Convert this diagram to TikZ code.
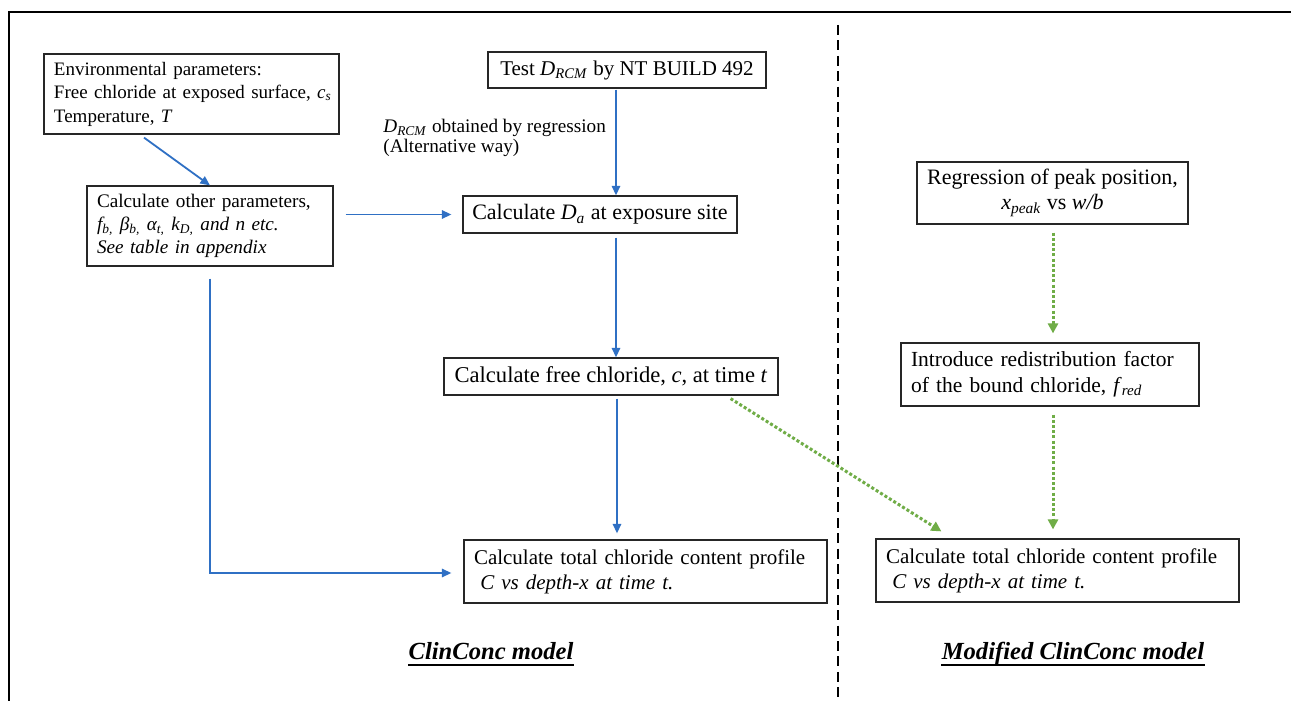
\documentclass[tikz,border=0pt]{standalone}
\usepackage{fontspec}
\setmainfont{Liberation Serif}
\usetikzlibrary{arrows.meta,calc}
\definecolor{arrblue}{RGB}{47,112,196}
\definecolor{arrgreen}{RGB}{112,173,71}
\begin{document}
\begin{tikzpicture}[x=0.5pt,y=-0.5pt,
  box/.style={draw=black!85, line width=0.6pt, inner sep=0pt, align=center,
    font=\fontsize{11}{12.5}\selectfont},
  lbox/.style={box, align=left, inner xsep=5pt},
  bluearr/.style={draw=arrblue, line width=0.9pt, -{Triangle[length=4.8pt,width=4.2pt]}},
  greenarr/.style={draw=arrgreen, line width=1.5pt, dash pattern=on 1.5pt off 1.1pt,
    -{Triangle[length=5pt,width=5pt]}},
  divider/.style={draw=black, line width=1.3pt, dash pattern=on 5pt off 2.7pt},
  modellabel/.style={inner sep=0pt, font=\fontsize{12.3}{14}\selectfont\bfseries\itshape},
  note/.style={inner sep=0pt, align=left, font=\fontsize{9.6}{10}\selectfont}
]
\useasboundingbox (0,0) rectangle (1291,701);
\fill[white] (0,0) rectangle (1291,701);
% frame
\draw[line width=1pt] (1291,12) -- (9,12) -- (9,701);
% divider
\draw[divider] (838,25) -- (838,701);

% left column boxes
\node[lbox, minimum width=147.5pt, text width=137.5pt, minimum height=40pt,
  font=\fontsize{9.5}{11.75}\selectfont] (env) at (191.5,94)
  {\mbox{Environmental parameters:}\\
   \mbox{Free chloride at exposed surface, \textit{c}\textsubscript{\textit{s}}}\\
   \mbox{Temperature, \textit{T}}};
\node[lbox, minimum width=123pt, text width=113pt, minimum height=40pt,
  font=\fontsize{9.6}{11.5}\selectfont] (calc) at (210,226)
  {\mbox{Calculate other parameters,}\\
   \mbox{\itshape f\textsubscript{b,} β\textsubscript{b,} α\textsubscript{t,} k\textsubscript{D,} and n etc.}\\
   \mbox{\itshape See table in appendix}};

% middle column
\node[box, minimum width=139pt, minimum height=18pt, font=\fontsize{10.5}{12}\selectfont] (test) at (627,70)
  {Test \textit{D}\textsubscript{\textit{RCM}} by NT BUILD 492};
\node[note, anchor=north west] (alt) at (383,119)
  {\textit{D}\textsubscript{\textit{RCM}} obtained by regression\\(Alternative way)};
\node[box, minimum width=137pt, minimum height=18.5pt] (da) at (600,214.5)
  {Calculate \textit{D}\textsubscript{\textit{a}} at exposure site};
\node[box, minimum width=167pt, minimum height=18.5pt, font=\fontsize{11.3}{12.5}\selectfont] (free) at (611,376.5)
  {Calculate free chloride, \textit{c}, at time \textit{t}};
\node[lbox, minimum width=181.5pt, text width=171.5pt, minimum height=31.5pt,
  font=\fontsize{10.5}{12.5}\selectfont] (totl) at (645.5,571.5)
  {\mbox{Calculate total chloride content profile}\\
   \mbox{\hspace*{0.3em}\textit{C vs depth-x at time t.}}};

% right column
\node[box, minimum width=135.5pt, minimum height=31pt] (reg) at (1052.5,193)
  {Regression of peak position,\\
   \textit{x}\textsubscript{\textit{peak}} vs \textit{w/b}};
\node[lbox, minimum width=149pt, text width=139pt, minimum height=31.5pt,
  font=\fontsize{10.75}{12.8}\selectfont] (red) at (1050,374.5)
  {\mbox{Introduce redistribution factor}\\
   \mbox{of the bound chloride, \textit{f}\textsubscript{\textit{red}}}};
\node[lbox, minimum width=181.5pt, text width=171.5pt, minimum height=31.5pt,
  font=\fontsize{10.5}{12.5}\selectfont] (totr) at (1057.5,570.5)
  {\mbox{Calculate total chloride content profile}\\
   \mbox{\hspace*{0.3em}\textit{C vs depth-x at time t.}}};

% model labels
\node[modellabel, anchor=base] (m1) at (491,659) {ClinConc model};
\draw[line width=1.2pt] ($(m1.base west)+(0,6)$) -- ($(m1.base east)+(0,6)$);
\node[modellabel, anchor=base] (m2) at (1073,659) {Modified ClinConc model};
\draw[line width=1.2pt] ($(m2.base west)+(0,6)$) -- ($(m2.base east)+(0,6)$);

% blue connectors
\draw[bluearr] ($(env.south)+(-47.5,3)$) -- (calc.north);
\draw[bluearr] ($(calc.east |- da.west)+(12,0)$) -- ($(da.west)+(-11,0)$);
\coordinate (t1) at ($(test.south)+(-11,1)$);
\draw[bluearr] (t1) -- (t1 |- da.north);
\coordinate (d1) at ($(da.south)+(16,4)$);
\draw[bluearr] (d1) -- (d1 |- free.north);
\coordinate (f1) at ($(free.south)+(6,3)$);
\draw[bluearr, shorten >=3pt] (f1) -- (f1 |- totl.north);
\draw[bluearr] ($(calc.south)+(0,12)$) |- ($(totl.west)+(-12,1.5)$);

% green connectors
\draw[greenarr] ($(free.south east)+(-48,3)$) -- ($(totr.north west)+(66,-7)$);
\coordinate (g1) at ($(reg.south)+(0.5,8)$);
\draw[greenarr, shorten >=4.5pt] (g1) -- (g1 |- red.north);
\coordinate (g2) at ($(red.south)+(3,8)$);
\draw[greenarr, shorten >=4.5pt] (g2) -- (g2 |- totr.north);
\end{tikzpicture}
\end{document}
